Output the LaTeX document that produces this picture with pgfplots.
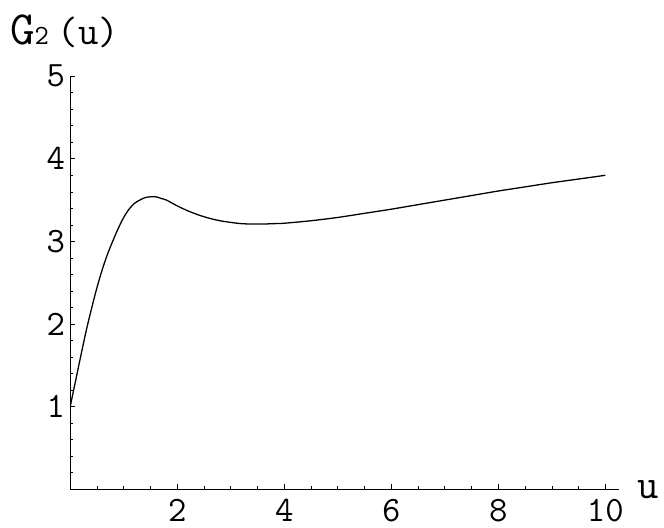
\documentclass[border=0pt]{standalone}
\usepackage{fontspec}
\usepackage{pgfplots}
\pgfplotsset{compat=1.18}
\pgfplotstableread{
u G
0.0 1.00
0.1 1.31
0.2 1.62
0.3 1.92
0.4 2.19
0.5 2.44
0.6 2.66
0.7 2.85
0.8 3.01
0.9 3.16
1.0 3.29
1.1 3.39
1.2 3.46
1.3 3.50
1.4 3.53
1.5 3.54
1.6 3.54
1.7 3.52
1.8 3.50
2.0 3.43
2.2 3.37
2.4 3.32
2.6 3.28
2.8 3.25
3.0 3.23
3.2 3.215
3.4 3.21
3.6 3.21
3.8 3.215
4.0 3.22
4.5 3.25
5.0 3.29
5.5 3.34
6.0 3.39
6.5 3.445
7.0 3.50
7.5 3.555
8.0 3.61
8.5 3.66
9.0 3.71
9.5 3.755
10.0 3.80
}\curve
\begin{document}
\begin{tikzpicture}
\useasboundingbox (-70.5bp,-38bp) rectangle (596.5bp,491.5bp);
\begin{axis}[
  at={(0,0)}, anchor=south west,
  scale only axis, width=551bp, height=415bp,
  xmin=0, xmax=10.25, ymin=0, ymax=5,
  axis lines=left,
  axis line style={-, line width=0.8pt, black},
  xtick={2,4,6,8,10}, ytick={1,2,3,4,5},
  minor xtick={0.5,1,...,10},
  minor ytick={0.2,0.4,...,5},
  tick align=inside,
  major tick length=5bp, minor tick length=3bp,
  every tick/.style={black, line width=0.6pt},
  /pgf/number format/assume math mode=true,
  ticklabel style={font=\ttfamily\fontsize{36}{36}\selectfont},
  yticklabel style={inner sep=0pt, xshift=-5bp},
  xticklabel style={inner sep=0pt, yshift=-9.5bp},
  every axis x label/.style={at={(axis description cs:1,0)}, anchor=base west, xshift=19bp, yshift=-9.2bp, inner sep=0pt},
  every axis y label/.style={at={(axis description cs:0,1)}, anchor=base west, xshift=-60.5bp, yshift=31.5bp, inner sep=0pt},
  xlabel={\ttfamily\fontsize{42}{42}\selectfont u},
  ylabel={{\ttfamily\fontsize{48}{48}\selectfont G}{\ttfamily\fontsize{28}{28}\selectfont 2\kern9bp}{\ttfamily\fontsize{40}{40}\selectfont (u)}},
]
\addplot[black, line width=1.3pt, smooth, no marks] table[x=u, y=G] {\curve};
\end{axis}
\end{tikzpicture}
\end{document}
